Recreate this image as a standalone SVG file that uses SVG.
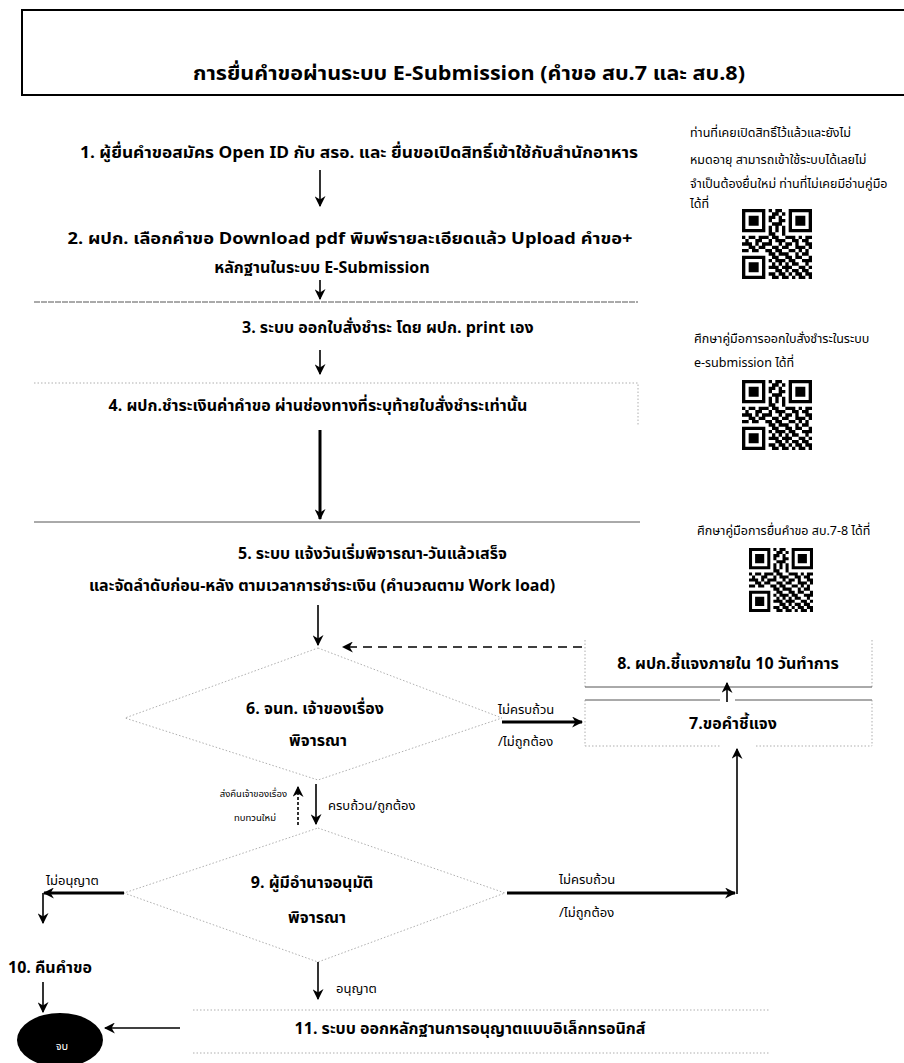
<svg xmlns="http://www.w3.org/2000/svg" xmlns:xlink="http://www.w3.org/1999/xlink" width="904" height="1063" viewBox="0 0 904 1063">
<style>
text{font-family:"Noto Sans Thai","Noto Sans","DejaVu Sans",sans-serif;fill:#000}
.t{font-size:19px;font-weight:bold}
.b{font-size:16px;font-weight:bold}
.n{font-size:13px}
.s{font-size:12.5px}
.xs{font-size:9.5px}
.m{text-anchor:middle}
.e{text-anchor:end}
.ar{stroke:#000;fill:none;stroke-width:1.6}
.th{stroke:#000;fill:none;stroke-width:3}
.fr{stroke:#9a9a9a;fill:none;stroke-width:0.8;stroke-dasharray:1.5 2}
.ln{stroke:#555;fill:none;stroke-width:1}
</style>
<defs>
<marker id="ah" viewBox="0 0 10 10" refX="9" refY="5" markerWidth="11" markerHeight="11" markerUnits="userSpaceOnUse" orient="auto"><path d="M0,0 L10,5 L0,10 L3,5 z" fill="#000"/></marker>
<symbol id="qr" viewBox="0 0 21 21"><path fill="#000" d="M0 0h7v1h-7zM8 0h1v1h-1zM10 0h2v1h-2zM14 0h7v1h-7zM0 1h1v1h-1zM6 1h1v1h-1zM9 1h2v1h-2zM12 1h1v1h-1zM14 1h1v1h-1zM20 1h1v1h-1zM0 2h1v1h-1zM2 2h3v1h-3zM6 2h1v1h-1zM8 2h2v1h-2zM11 2h1v1h-1zM14 2h1v1h-1zM16 2h3v1h-3zM20 2h1v1h-1zM0 3h1v1h-1zM2 3h3v1h-3zM6 3h1v1h-1zM8 3h1v1h-1zM11 3h2v1h-2zM14 3h1v1h-1zM16 3h3v1h-3zM20 3h1v1h-1zM0 4h1v1h-1zM2 4h3v1h-3zM6 4h1v1h-1zM9 4h3v1h-3zM14 4h1v1h-1zM16 4h3v1h-3zM20 4h1v1h-1zM0 5h1v1h-1zM6 5h1v1h-1zM8 5h1v1h-1zM10 5h1v1h-1zM12 5h1v1h-1zM14 5h1v1h-1zM20 5h1v1h-1zM0 6h7v1h-7zM8 6h1v1h-1zM10 6h1v1h-1zM12 6h1v1h-1zM14 6h7v1h-7zM8 7h2v1h-2zM12 7h1v1h-1zM0 8h1v1h-1zM2 8h2v1h-2zM5 8h3v1h-3zM9 8h2v1h-2zM13 8h3v1h-3zM17 8h1v1h-1zM19 8h2v1h-2zM1 9h1v1h-1zM4 9h2v1h-2zM8 9h1v1h-1zM10 9h3v1h-3zM15 9h2v1h-2zM18 9h2v1h-2zM0 10h3v1h-3zM4 10h1v1h-1zM6 10h3v1h-3zM11 10h1v1h-1zM13 10h2v1h-2zM16 10h1v1h-1zM19 10h2v1h-2zM2 11h2v1h-2zM5 11h2v1h-2zM9 11h2v1h-2zM12 11h2v1h-2zM16 11h3v1h-3zM20 11h1v1h-1zM0 12h2v1h-2zM3 12h2v1h-2zM7 12h2v1h-2zM10 12h2v1h-2zM14 12h2v1h-2zM17 12h1v1h-1zM19 12h1v1h-1zM8 13h2v1h-2zM11 13h3v1h-3zM16 13h1v1h-1zM18 13h2v1h-2zM0 14h7v1h-7zM9 14h2v1h-2zM13 14h2v1h-2zM16 14h2v1h-2zM20 14h1v1h-1zM0 15h1v1h-1zM6 15h1v1h-1zM8 15h1v1h-1zM10 15h3v1h-3zM14 15h2v1h-2zM18 15h3v1h-3zM0 16h1v1h-1zM2 16h3v1h-3zM6 16h1v1h-1zM9 16h1v1h-1zM11 16h1v1h-1zM13 16h1v1h-1zM15 16h2v1h-2zM19 16h1v1h-1zM0 17h1v1h-1zM2 17h3v1h-3zM6 17h1v1h-1zM8 17h3v1h-3zM12 17h3v1h-3zM17 17h2v1h-2zM20 17h1v1h-1zM0 18h1v1h-1zM2 18h3v1h-3zM6 18h1v1h-1zM10 18h2v1h-2zM13 18h1v1h-1zM15 18h2v1h-2zM18 18h2v1h-2zM0 19h1v1h-1zM6 19h1v1h-1zM8 19h2v1h-2zM11 19h2v1h-2zM14 19h1v1h-1zM16 19h2v1h-2zM19 19h2v1h-2zM0 20h7v1h-7zM9 20h2v1h-2zM12 20h2v1h-2zM15 20h1v1h-1zM17 20h2v1h-2zM20 20h1v1h-1z"/></symbol>
</defs>
<rect width="904" height="1063" fill="#fff"/>

<g id="title">
<path d="M904 10H22V95H904" fill="none" stroke="#000" stroke-width="2"/>
<text class="t m" x="469" y="80" textLength="552" lengthAdjust="spacingAndGlyphs">การยื่นคำขอผ่านระบบ E-Submission (คำขอ สบ.7 และ สบ.8)</text>
</g>

<g id="step1"><text class="b m" x="359" y="158" textLength="558" lengthAdjust="spacingAndGlyphs">1. ผู้ยื่นคำขอสมัคร Open ID กับ สรอ. และ ยื่นขอเปิดสิทธิ์เข้าใช้กับสำนักอาหาร</text></g>
<g id="step2">
<text class="b m" x="350" y="244" textLength="565" lengthAdjust="spacingAndGlyphs">2. ผปก. เลือกคำขอ Download pdf พิมพ์รายละเอียดแล้ว Upload คำขอ+</text>
<text class="b m" x="322" y="273">หลักฐานในระบบ E-Submission</text>
</g>
<g id="step3">
<path class="ln" d="M34 302H638" stroke-dasharray="6 1"/>
<text class="b" x="242" y="333">3. ระบบ ออกใบสั่งชำระ โดย ผปก. print เอง</text>
</g>
<g id="step4">
<path class="fr" d="M34 383H638V425"/>
<text class="b m" x="318" y="411">4. ผปก.ชำระเงินค่าคำขอ ผ่านช่องทางที่ระบุท้ายใบสั่งชำระเท่านั้น</text>
</g>
<g id="step5">
<path class="ln" d="M34 522H640" stroke-width="1.3"/>
<text class="b" x="238" y="559">5. ระบบ แจ้งวันเริ่มพิจารณา-วันแล้วเสร็จ</text>
<text class="b m" x="322" y="591">และจัดลำดับก่อน-หลัง ตามเวลาการชำระเงิน (คำนวณตาม Work load)</text>
</g>

<g id="step6">
<path class="fr" d="M318 648L502 718L318 780L125 718Z" stroke="#b0b0b0"/>
<text class="b m" x="315" y="714">6. จนท. เจ้าของเรื่อง</text>
<text class="b m" x="318" y="746">พิจารณา</text>
</g>
<g id="step8">
<path class="fr" d="M585 640V687M872 640V687"/>
<path class="ln" d="M585 687H872" stroke="#777"/>
<text class="b m" x="728" y="669">8. ผปก.ชี้แจงภายใน 10 วันทำการ</text>
</g>
<g id="step7">
<path class="ln" d="M585 700H720M735 700H872" stroke="#777"/>
<path class="fr" d="M872 700V746M585 700V746M585 746H720M756 746H872"/>
<text class="b m" x="733" y="729">7.ขอคำชี้แจง</text>
</g>

<g id="step9">
<path class="fr" d="M318 828L505 893L318 962L124 893Z" stroke="#b0b0b0"/>
<text class="b m" x="312" y="888">9. ผู้มีอำนาจอนุมัติ</text>
<text class="b m" x="317" y="923">พิจารณา</text>
</g>
<g id="step10"><text class="b" x="8" y="973">10. คืนคำขอ</text></g>
<g id="step11">
<path class="fr" d="M193 1010H770M193 1053H770" stroke="#888"/>
<text class="b m" x="470" y="1034">11. ระบบ ออกหลักฐานการอนุญาตแบบอิเล็กทรอนิกส์</text>
</g>
<g id="end">
<ellipse cx="60" cy="1040" rx="43" ry="27" fill="#000"/>
<text class="n m" x="62" y="1050" style="fill:#fff;font-size:11px">จบ</text>
</g>

<g id="notes">
<text class="s" x="690" y="137">ท่านที่เคยเปิดสิทธิ์ไว้แล้วและยังไม่</text>
<text class="s" x="690" y="164">หมดอายุ สามารถเข้าใช้ระบบได้เลยไม่</text>
<text class="s" x="690" y="188">จำเป็นต้องยื่นใหม่ ท่านที่ไม่เคยมีอ่านคู่มือ</text>
<text class="s" x="690" y="208">ได้ที่</text>
<use xlink:href="#qr" x="742" y="208" width="70" height="72"/>
<text class="s" x="694" y="343">ศึกษาคู่มือการออกใบสั่งชำระในระบบ</text>
<text class="s" x="694" y="367">e-submission ได้ที่</text>
<use xlink:href="#qr" x="742" y="380" width="70" height="70"/>
<text class="s" x="697" y="535">ศึกษาคู่มือการยื่นคำขอ สบ.7-8 ได้ที่</text>
<use xlink:href="#qr" x="747" y="548" width="68" height="64"/>
</g>

<g id="connectors">
<path class="ar" d="M320 170V206" marker-end="url(#ah)"/>
<path class="ar" d="M320 280V299" marker-end="url(#ah)"/>
<path class="ar" d="M320 350V374" marker-end="url(#ah)"/>
<path class="th" d="M320 430V519" marker-end="url(#ah)"/>
<path class="ar" d="M318 605V645" marker-end="url(#ah)"/>
<path class="ar" d="M582 647H343" stroke-dasharray="9 6" marker-end="url(#ah)"/>
<path class="th" d="M502 722H582" stroke-width="2.5" marker-end="url(#ah)"/>
<text class="n" x="498" y="714">ไม่ครบถ้วน</text>
<text class="n" x="498" y="746">/ไม่ถูกต้อง</text>
<path class="ar" d="M727 702V683" marker-end="url(#ah)"/>
<path class="ar" d="M298 825V787" stroke-dasharray="3 2" stroke-width="2.2" marker-end="url(#ah)"/>
<path class="ar" d="M316 784V824" marker-end="url(#ah)"/>
<text class="xs e" x="287" y="797">ส่งคืนเจ้าของเรื่อง</text>
<text class="xs e" x="276" y="821">ทบทวนใหม่</text>
<text class="n" x="328" y="810">ครบถ้วน/ถูกต้อง</text>
<path class="th" d="M507 893H735" stroke-width="2.5" marker-end="url(#ah)"/>
<path class="ar" d="M737 894V749" stroke-width="2" marker-end="url(#ah)"/>
<text class="n" x="559" y="884">ไม่ครบถ้วน</text>
<text class="n" x="559" y="917">/ไม่ถูกต้อง</text>
<path class="th" d="M124 893H44" stroke-width="2.5" marker-end="url(#ah)"/>
<path class="ar" d="M43 893V923" stroke-width="2.5" marker-end="url(#ah)"/>
<text class="n" x="46" y="885">ไม่อนุญาต</text>
<path class="ar" d="M43 982V1012" marker-end="url(#ah)"/>
<path class="ar" d="M318 962V999" stroke-width="2" marker-end="url(#ah)"/>
<text class="n" x="336" y="993">อนุญาต</text>
<path class="ar" d="M180 1028H105" marker-end="url(#ah)"/>
</g>
</svg>
